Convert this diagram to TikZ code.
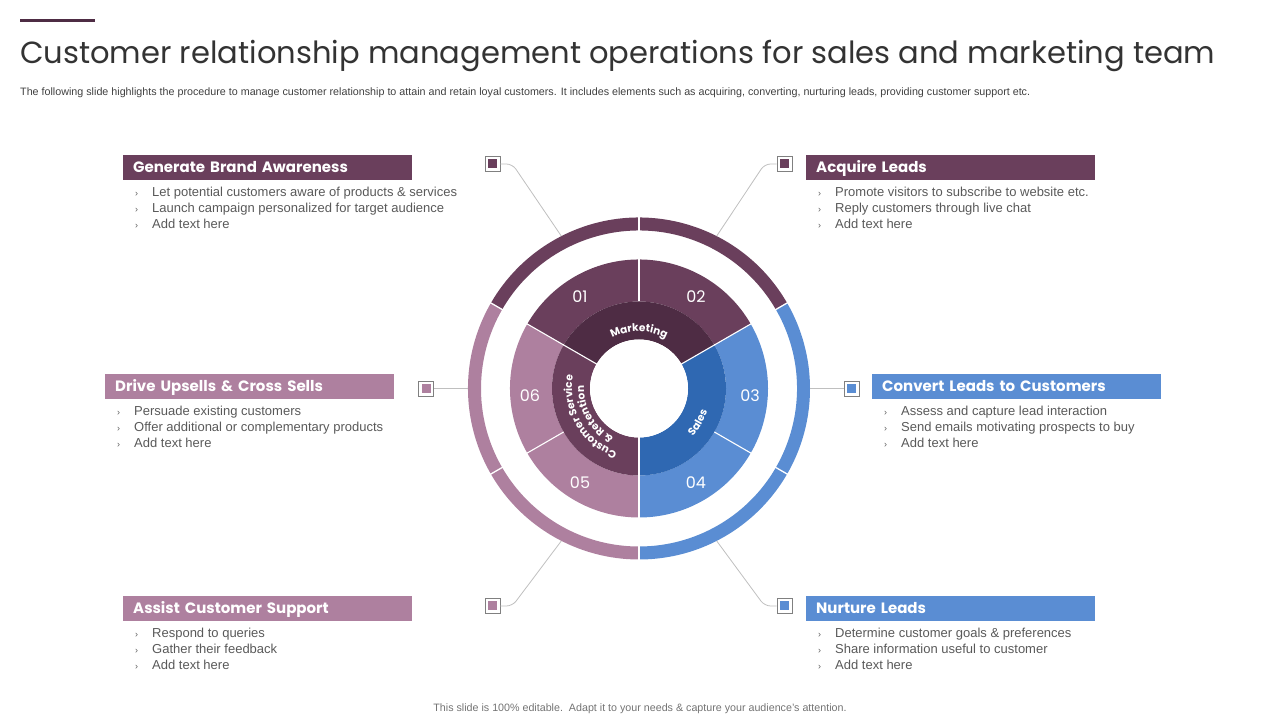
\documentclass[tikz,border=0pt]{standalone}
\usepackage{fontspec}
\usepackage{tikz}
\usetikzlibrary{decorations.text}
\setmainfont{Liberation Sans}
\newfontfamily\headfont{Poppins}

\definecolor{purpD}{HTML}{6A3F5C}
\definecolor{purpX}{HTML}{4E2C44}
\definecolor{mauve}{HTML}{AE809F}
\definecolor{blueL}{HTML}{5A8DD3}
\definecolor{blueD}{HTML}{2F68B2}
\definecolor{txtG}{HTML}{595959}
\definecolor{lineG}{HTML}{BFBFBF}

\newcommand{\itm}{\makebox[17pt][l]{\small\char"203A}}
\newcommand{\lblfont}{\headfont\bfseries\fontsize{10.5}{12}\selectfont}

\begin{document}
\begin{tikzpicture}
[x=1pt,y=1pt]
\tikzset{head/.style={fill=#1, anchor=north west, minimum height=24.5pt, text width=269pt,
    inner xsep=10pt, inner ysep=0pt, align=left, text=white, text height=10.5pt, text depth=0pt,
    font=\headfont\bfseries\fontsize{15}{18}\selectfont},
  item/.style={anchor=west, inner sep=0pt, text=txtG, text height=9pt, text depth=2.5pt,
    font=\fontsize{13}{15}\selectfont},
  num/.style={text=white, inner sep=0pt, font=\headfont\fontsize{16}{16}\selectfont},
  sq/.style={draw=gray, line width=0.8pt, fill=white, minimum size=15pt, inner sep=0pt,
    path picture={\fill[#1] ([shift={(3pt,3pt)}]path picture bounding box.south west)
      rectangle ([shift={(-3pt,-3pt)}]path picture bounding box.north east);}},
  conn/.style={draw=lineG, line width=0.8pt, rounded corners=6pt},
  arctext/.style={decorate, decoration={text along path, text align=center,
    text color=white, text={|\lblfont|#1}}}}
\useasboundingbox (0,0) rectangle (1280,720);

% title
\draw [line width=3pt, purpX] (20,699) -- (95,699);
\node [anchor=base west, inner sep=0pt, text=black!80] (title) at (20,656)
  {\resizebox{1195pt}{!}{\headfont\fontsize{30}{30}\selectfont Customer relationship management operations for sales and marketing team}};
\node [anchor=base west, inner sep=0pt, text=black!75] (sub) at (20,624)
  {\resizebox{1010pt}{!}{\fontsize{10}{10}\selectfont The following slide highlights the procedure to manage customer relationship to attain and retain loyal customers. It includes elements such as acquiring, converting, nurturing leads, providing customer support etc.}};

% wheel
\begin{scope}[shift={(639,331.5)}]
\foreach \a/\b/\c in {30/150/purpD,-90/30/blueL,150/270/mauve}
  \fill [\c] (\a:171pt) arc [start angle=\a, end angle=\b, radius=171pt]
    -- (\b:158pt) arc [start angle=\b, end angle=\a, radius=158pt] -- cycle;
\foreach \a/\b/\c in {30/150/purpD,-90/30/blueL,150/270/mauve}
  \fill [\c] (\a:129pt) arc [start angle=\a, end angle=\b, radius=129pt]
    -- (\b:87pt) arc [start angle=\b, end angle=\a, radius=87pt] -- cycle;
\foreach \a/\b/\c in {30/150/purpX,-90/30/blueD,150/270/purpD}
  \fill [\c] (\a:87pt) arc [start angle=\a, end angle=\b, radius=87pt]
    -- (\b:49pt) arc [start angle=\b, end angle=\a, radius=49pt] -- cycle;
\fill [white] (0,0) circle [radius=49pt];
\foreach \a in {30,90,...,330}
  {\draw [white, line width=1.3pt] (\a:155pt) -- (\a:175pt);
   \draw [white, line width=1.1pt] (\a:87pt) -- (\a:131pt);}
\foreach \a in {30,150,270}
  \draw [white, line width=1.1pt] (\a:47pt) -- (\a:88pt);

\coordinate (c1) at (117:171pt);
\coordinate (c2) at (63:171pt);
\coordinate (c3) at (180:171pt);
\coordinate (c4) at (0:171pt);
\coordinate (c5) at (243:171pt);
\coordinate (c6) at (-63:171pt);

\path [arctext=Marketing] (130:57pt) arc [start angle=130, end angle=50, radius=57pt];
\path [arctext=Sales] (-65:72pt) arc [start angle=-65, end angle=5, radius=72pt];
\path [arctext=Customer Service] (270:67pt) arc [start angle=270, end angle=150, radius=67pt];
\path [arctext={{\&} Retention}] (270:55pt) arc [start angle=270, end angle=150, radius=55pt];
\end{scope}

\node [num] (n1) at (580,423) {01};
\node [num] (n2) at (696,423) {02};
\node [num] (n3) at (750,324) {03};
\node [num] (n4) at (696,237) {04};
\node [num] (n5) at (580,237) {05};
\node [num] (n6) at (530,324) {06};

% markers and leader lines
\node [sq=purpD] (sq1) at (492.5,556) {};
\node [sq=purpD] (sq2) at (784.5,556) {};
\node [sq=mauve] (sq3) at (426,331.5) {};
\node [sq=blueL] (sq4) at (851.5,331.5) {};
\node [sq=mauve] (sq5) at (492.5,114) {};
\node [sq=blueL] (sq6) at (784.5,114) {};

\draw [conn] (sq1.east) -- ++(12,0) -- (c1);
\draw [conn] (sq2.west) -- ++(-12,0) -- (c2);
\draw [conn] (sq3.east) -- (c3);
\draw [conn] (sq4.west) -- (c4);
\draw [conn] (sq5.east) -- ++(12,0) -- (c5);
\draw [conn] (sq6.west) -- ++(-12,0) -- (c6);

% text blocks
\node [head=purpD] (gba) at (123,565) {Generate Brand Awareness};
\foreach \t [count=\i] in {Let potential customers aware of products \& services,
    Launch campaign personalized for target audience, Add text here}
  \node [item] (gba-\i) at ([shift={(12,{2.5-16*\i})}]gba.south west) {\itm\t};

\node [head=purpD] (al) at (806,565) {Acquire Leads};
\foreach \t [count=\i] in {Promote visitors to subscribe to website etc.,
    Reply customers through live chat, Add text here}
  \node [item] (al-\i) at ([shift={(12,{2.5-16*\i})}]al.south west) {\itm\t};

\node [head=mauve] (du) at (105,346) {Drive Upsells \& Cross Sells};
\foreach \t [count=\i] in {Persuade existing customers,
    Offer additional or complementary products, Add text here}
  \node [item] (du-\i) at ([shift={(12,{2.5-16*\i})}]du.south west) {\itm\t};

\node [head=blueL] (cl) at (872,346) {Convert Leads to Customers};
\foreach \t [count=\i] in {Assess and capture lead interaction,
    Send emails motivating prospects to buy, Add text here}
  \node [item] (cl-\i) at ([shift={(12,{2.5-16*\i})}]cl.south west) {\itm\t};

\node [head=mauve] (acs) at (123,124) {Assist Customer Support};
\foreach \t [count=\i] in {Respond to queries,
    Gather their feedback, Add text here}
  \node [item] (acs-\i) at ([shift={(12,{2.5-16*\i})}]acs.south west) {\itm\t};

\node [head=blueL] (nl) at (806,124) {Nurture Leads};
\foreach \t [count=\i] in {Determine customer goals \& preferences,
    Share information useful to customer, Add text here}
  \node [item] (nl-\i) at ([shift={(12,{2.5-16*\i})}]nl.south west) {\itm\t};

% footer
\node [inner sep=0pt, text=black!55, font=\fontsize{10.7}{11}\selectfont] (foot) at (640,11.5)
  {This slide is 100\% editable.\ \ Adapt it to your needs \& capture your audience’s attention.};
\end{tikzpicture}
\end{document}
